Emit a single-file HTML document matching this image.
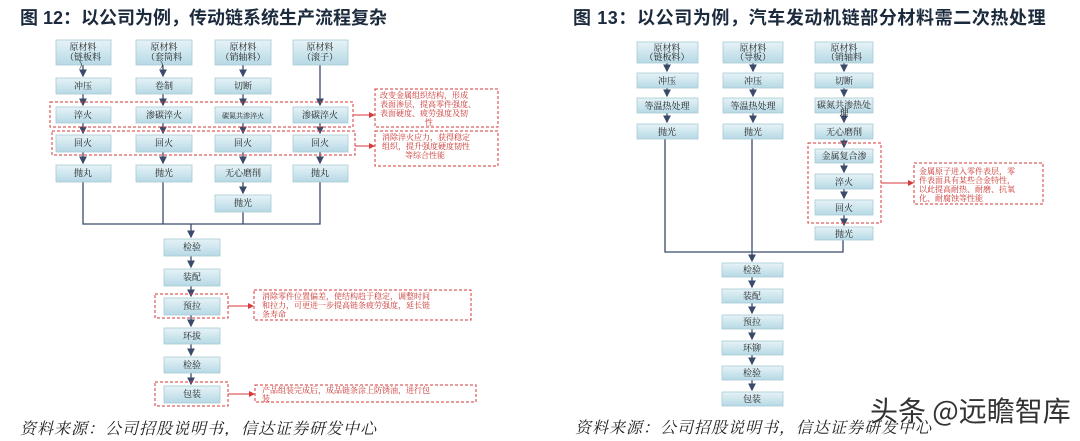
<!DOCTYPE html>
<html><head><meta charset="utf-8"><style>
body{margin:0;background:#fff;width:1080px;height:436px;overflow:hidden}
svg text{font-family:"Liberation Serif","Noto Serif CJK SC","Noto Sans CJK SC",serif}
.b{fill:url(#g);stroke:#a9cad6;stroke-width:0.8}
.t{font-size:9px;fill:#222;text-anchor:middle}
.l{stroke:#3a4a6a;stroke-width:1.3;fill:none}
.r{stroke:#d63a3a;stroke-width:1;stroke-dasharray:3,2;fill:none}
.rt{font-size:8px;fill:#c8302c}
.ti{font-family:"Liberation Sans","Noto Sans CJK SC",sans-serif;font-weight:bold;font-size:18px;fill:#1b2a3c}
.src{font-family:"Liberation Serif","Noto Serif CJK SC",serif;font-style:italic;font-size:16px;fill:#222}
</style></head><body>
<svg width="1080" height="436" xmlns="http://www.w3.org/2000/svg">
<defs>
<linearGradient id="g" x1="0" y1="0" x2="0" y2="1"><stop offset="0" stop-color="#e6f3f7"/><stop offset="1" stop-color="#b6d9e5"/></linearGradient>
<marker id="a" markerWidth="6" markerHeight="6" refX="5" refY="3" orient="auto"><path d="M0,0L6,3L0,6z" fill="#3a4a6a"/></marker>
<marker id="ar" markerWidth="6" markerHeight="6" refX="5" refY="3" orient="auto"><path d="M0,0L6,3L0,6z" fill="#d63a3a"/></marker>
</defs>
<text class="ti" x="20" y="24">图 12：以公司为例，传动链系统生产流程复杂</text>
<text class="ti" x="573" y="24" style="letter-spacing:0.6px">图 13：以公司为例，汽车发动机链部分材料需二次热处理</text>

<!-- LEFT diagram -->
<g class="l">
<line x1="83" y1="65" x2="83" y2="76" marker-end="url(#a)"/><line x1="163" y1="65" x2="163" y2="76" marker-end="url(#a)"/><line x1="243" y1="65" x2="243" y2="76" marker-end="url(#a)"/><line x1="320" y1="65" x2="320" y2="105" marker-end="url(#a)"/>
<line x1="83" y1="94" x2="83" y2="105" marker-end="url(#a)"/><line x1="163" y1="94" x2="163" y2="105" marker-end="url(#a)"/><line x1="243" y1="94" x2="243" y2="105" marker-end="url(#a)"/>
<line x1="83" y1="123" x2="83" y2="133" marker-end="url(#a)"/><line x1="163" y1="123" x2="163" y2="133" marker-end="url(#a)"/><line x1="243" y1="123" x2="243" y2="133" marker-end="url(#a)"/><line x1="320" y1="123" x2="320" y2="133" marker-end="url(#a)"/>
<line x1="83" y1="152" x2="83" y2="163" marker-end="url(#a)"/><line x1="163" y1="152" x2="163" y2="163" marker-end="url(#a)"/><line x1="243" y1="152" x2="243" y2="163" marker-end="url(#a)"/><line x1="320" y1="152" x2="320" y2="163" marker-end="url(#a)"/>
<line x1="243" y1="182" x2="243" y2="193" marker-end="url(#a)"/>
<polyline points="83,182 83,224 320,224 320,182"/><line x1="163" y1="182" x2="163" y2="224"/><line x1="243" y1="212" x2="243" y2="224"/>
<line x1="191" y1="224" x2="191" y2="237" marker-end="url(#a)"/>
<line x1="191" y1="256" x2="191" y2="267" marker-end="url(#a)"/><line x1="191" y1="286" x2="191" y2="296" marker-end="url(#a)"/><line x1="191" y1="315" x2="191" y2="326" marker-end="url(#a)"/><line x1="191" y1="344" x2="191" y2="355" marker-end="url(#a)"/><line x1="191" y1="373" x2="191" y2="384" marker-end="url(#a)"/>
</g>
<g>
<rect class="b" x="56" y="40" width="55" height="25"/><text class="t" x="83" y="50">原材料</text><text class="t" x="83" y="60">（链板料</text><text class="t" x="83" y="68">）</text>
<rect class="b" x="136" y="40" width="56" height="25"/><text class="t" x="164" y="50">原材料</text><text class="t" x="164" y="60">（套筒料</text><text class="t" x="164" y="68">）</text>
<rect class="b" x="215" y="40" width="56" height="25"/><text class="t" x="243" y="50">原材料</text><text class="t" x="243" y="60">（销轴料）</text>
<rect class="b" x="293" y="40" width="55" height="25"/><text class="t" x="320" y="50">原材料</text><text class="t" x="320" y="60">（滚子）</text>
<rect class="b" x="56" y="78" width="55" height="16"/><text class="t" x="83" y="89">冲压</text>
<rect class="b" x="136" y="78" width="56" height="16"/><text class="t" x="164" y="89">卷制</text>
<rect class="b" x="215" y="78" width="56" height="16"/><text class="t" x="243" y="89">切断</text>
<rect class="b" x="56" y="107" width="55" height="16"/><text class="t" x="83" y="118">淬火</text>
<rect class="b" x="136" y="107" width="56" height="16"/><text class="t" x="164" y="118">渗碳淬火</text>
<rect class="b" x="215" y="107" width="56" height="16"/><text class="t" x="243" y="118" style="font-size:7px">碳氮共渗淬火</text>
<rect class="b" x="293" y="107" width="55" height="16"/><text class="t" x="320" y="118">渗碳淬火</text>
<rect class="b" x="56" y="135" width="55" height="17"/><text class="t" x="83" y="146">回火</text>
<rect class="b" x="136" y="135" width="56" height="17"/><text class="t" x="164" y="146">回火</text>
<rect class="b" x="215" y="135" width="56" height="17"/><text class="t" x="243" y="146">回火</text>
<rect class="b" x="293" y="135" width="55" height="17"/><text class="t" x="320" y="146">回火</text>
<rect class="b" x="56" y="165" width="55" height="17"/><text class="t" x="83" y="176">抛丸</text>
<rect class="b" x="136" y="165" width="56" height="17"/><text class="t" x="164" y="176">抛光</text>
<rect class="b" x="215" y="165" width="56" height="17"/><text class="t" x="243" y="176">无心磨削</text>
<rect class="b" x="293" y="165" width="55" height="17"/><text class="t" x="320" y="176">抛丸</text>
<rect class="b" x="215" y="195" width="56" height="17"/><text class="t" x="243" y="206">抛光</text>
<rect class="b" x="164" y="239" width="56" height="17"/><text class="t" x="192" y="250">检验</text>
<rect class="b" x="164" y="269" width="56" height="17"/><text class="t" x="192" y="280">装配</text>
<rect class="b" x="164" y="298" width="56" height="17"/><text class="t" x="192" y="309">预拉</text>
<rect class="b" x="164" y="328" width="56" height="16"/><text class="t" x="192" y="339">环拔</text>
<rect class="b" x="164" y="357" width="56" height="16"/><text class="t" x="192" y="368">检验</text>
<rect class="b" x="164" y="386" width="56" height="17"/><text class="t" x="192" y="397">包装</text>
</g>
<rect class="r" x="50" y="102" width="303" height="25"/>
<rect class="r" x="52" y="131" width="303" height="24"/>
<rect class="r" x="375" y="89" width="123" height="38"/>
<rect class="r" x="375" y="131" width="123" height="35"/>
<line x1="353" y1="115" x2="374" y2="115" stroke="#d63a3a" marker-end="url(#ar)"/>
<line x1="355" y1="146" x2="374" y2="146" stroke="#d63a3a" marker-end="url(#ar)"/>
<text class="rt" x="380" y="98">改变金属组织结构，形成</text><text class="rt" x="380" y="107">表面渗层，提高零件强度、</text><text class="rt" x="380" y="116">表面硬度、疲劳强度及韧</text><text class="rt" x="425" y="125">性</text>
<text class="rt" x="382" y="140">消除淬火应力，获得稳定</text><text class="rt" x="382" y="149">组织，提升强度硬度韧性</text><text class="rt" x="405" y="158">等综合性能</text>
<rect class="r" x="155" y="294" width="73" height="24"/>
<rect class="r" x="155" y="382" width="73" height="24"/>
<rect class="r" x="254" y="290" width="217" height="30"/>
<rect class="r" x="255" y="385" width="221" height="17"/>
<line x1="228" y1="306" x2="253" y2="306" stroke="#d63a3a" marker-end="url(#ar)"/>
<line x1="228" y1="394" x2="254" y2="394" stroke="#d63a3a" marker-end="url(#ar)"/>
<text class="rt" x="262" y="299">消除零件位置偏差，使结构趋于稳定，调整时间</text><text class="rt" x="262" y="308">和拉力，可更进一步提高链条疲劳强度，延长链</text><text class="rt" x="262" y="317">条寿命</text>
<text class="rt" x="262" y="393">产品组装完成后，成品链条涂上防锈油，进行包</text><text class="rt" x="262" y="401">装</text>
<text class="src" x="20" y="434" style="letter-spacing:1px">资料来源：公司招股说明书，信达证券研发中心</text>

<!-- RIGHT diagram -->
<g class="l">
<line x1="667" y1="63" x2="667" y2="71" marker-end="url(#a)"/><line x1="753" y1="63" x2="753" y2="71" marker-end="url(#a)"/><line x1="844" y1="63" x2="844" y2="71" marker-end="url(#a)"/>
<line x1="667" y1="88" x2="667" y2="96" marker-end="url(#a)"/><line x1="753" y1="88" x2="753" y2="96" marker-end="url(#a)"/><line x1="844" y1="88" x2="844" y2="96" marker-end="url(#a)"/>
<line x1="667" y1="113" x2="667" y2="122" marker-end="url(#a)"/><line x1="753" y1="113" x2="753" y2="122" marker-end="url(#a)"/><line x1="844" y1="113" x2="844" y2="122" marker-end="url(#a)"/>
<line x1="844" y1="139" x2="844" y2="147" marker-end="url(#a)"/><line x1="844" y1="163" x2="844" y2="172" marker-end="url(#a)"/><line x1="844" y1="189" x2="844" y2="198" marker-end="url(#a)"/><line x1="844" y1="215" x2="844" y2="225" marker-end="url(#a)"/>
<polyline points="665,139 665,252 843,252 843,240"/><line x1="752" y1="139" x2="752" y2="252"/>
<line x1="752" y1="252" x2="752" y2="261" marker-end="url(#a)"/>
<line x1="752" y1="277" x2="752" y2="287" marker-end="url(#a)"/><line x1="752" y1="303" x2="752" y2="313" marker-end="url(#a)"/><line x1="752" y1="329" x2="752" y2="339" marker-end="url(#a)"/><line x1="752" y1="355" x2="752" y2="364" marker-end="url(#a)"/><line x1="752" y1="380" x2="752" y2="390" marker-end="url(#a)"/>
</g>
<g>
<rect class="b" x="637" y="42" width="61" height="21"/><text class="t" x="667" y="51">原材料</text><text class="t" x="667" y="60">（链板料）</text>
<rect class="b" x="723" y="42" width="60" height="21"/><text class="t" x="753" y="51">原材料</text><text class="t" x="753" y="60">（导板）</text>
<rect class="b" x="815" y="42" width="58" height="21"/><text class="t" x="844" y="51">原材料</text><text class="t" x="844" y="60">（销轴料</text>
<rect class="b" x="637" y="73" width="61" height="15"/><text class="t" x="667" y="84">冲压</text>
<rect class="b" x="723" y="73" width="60" height="15"/><text class="t" x="753" y="84">冲压</text>
<rect class="b" x="815" y="73" width="58" height="15"/><text class="t" x="844" y="84">切断</text>
<rect class="b" x="637" y="98" width="61" height="15"/><text class="t" x="667" y="109">等温热处理</text>
<rect class="b" x="723" y="98" width="60" height="15"/><text class="t" x="753" y="109">等温热处理</text>
<rect class="b" x="815" y="98" width="58" height="15"/><text class="t" x="844" y="108">碳氮共渗热处</text><text class="t" x="844" y="116">理</text>
<rect class="b" x="637" y="124" width="61" height="15"/><text class="t" x="667" y="135">抛光</text>
<rect class="b" x="723" y="124" width="60" height="15"/><text class="t" x="753" y="135">抛光</text>
<rect class="b" x="815" y="124" width="58" height="15"/><text class="t" x="844" y="135">无心磨削</text>
<rect class="b" x="815" y="149" width="58" height="14"/><text class="t" x="844" y="159">金属复合渗</text>
<rect class="b" x="815" y="174" width="58" height="15"/><text class="t" x="844" y="185">淬火</text>
<rect class="b" x="815" y="200" width="58" height="15"/><text class="t" x="844" y="211">回火</text>
<rect class="b" x="815" y="227" width="58" height="13"/><text class="t" x="844" y="237">抛光</text>
<rect class="b" x="722" y="263" width="61" height="14"/><text class="t" x="752" y="273">检验</text>
<rect class="b" x="722" y="289" width="61" height="14"/><text class="t" x="752" y="299">装配</text>
<rect class="b" x="722" y="315" width="61" height="14"/><text class="t" x="752" y="325">预拉</text>
<rect class="b" x="722" y="341" width="61" height="14"/><text class="t" x="752" y="351">环铆</text>
<rect class="b" x="722" y="366" width="61" height="14"/><text class="t" x="752" y="376">检验</text>
<rect class="b" x="722" y="392" width="61" height="14"/><text class="t" x="752" y="402">包装</text>
</g>
<rect class="r" x="808" y="143" width="73" height="80"/>
<rect class="r" x="914" y="163" width="129" height="41"/>
<line x1="881" y1="183" x2="913" y2="183" stroke="#d63a3a" marker-end="url(#ar)"/>
<text class="rt" x="919" y="174">金属原子进入零件表层，零</text><text class="rt" x="919" y="183">件表面具有某些合金特性，</text><text class="rt" x="919" y="192">以此提高耐热、耐磨、抗氧</text><text class="rt" x="919" y="201">化、耐腐蚀等性能</text>
<text class="src" x="575" y="433" style="letter-spacing:1px">资料来源：公司招股说明书，信达证券研发中心</text>
<text x="870" y="421" style="font-family:'Noto Sans CJK SC','WenQuanYi Zen Hei',sans-serif;font-size:28px;fill:#333;stroke:#fff;stroke-width:0.6;paint-order:stroke">头条 @远瞻智库</text>
</svg>
</body></html>
